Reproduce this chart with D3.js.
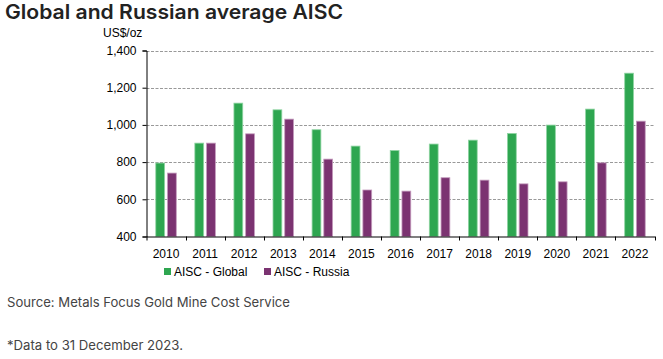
<!DOCTYPE html>
<html><head><meta charset="utf-8">
<script src="https://cdn.jsdelivr.net/npm/d3@7"></script>
<style>body{margin:0;background:#fff;} svg{display:block;}</style>
</head><body>
<script>
const years = ["2010","2011","2012","2013","2014","2015","2016","2017","2018","2019","2020","2021","2022"];
const aiscGlobal = [795, 902, 1117, 1081, 974, 886, 862, 897, 918, 954, 999, 1085, 1278];
const aiscRussia = [741, 902, 952, 1031, 816, 650, 644, 716, 703, 683, 694, 796, 1020];
const seriesNames = ["AISC - Global", "AISC - Russia"];
const yTicks = [400, 600, 800, 1000, 1200, 1400];

(function(){
const W = 663, H = 359;
const colors = ["#2EA650", "#7B3371"];
const svg = d3.select("body").append("svg").attr("width", W).attr("height", H);

const pL = 146.5, pR = 654.5, pT = 50.5, pB = 236.5;
const x0 = d3.scaleBand().domain(years).range([pL, pR]).paddingInner(0.475).paddingOuter(0.2375);
const x1 = d3.scaleBand().domain([0,1]).range([0, x0.bandwidth()]).paddingInner(0.25);
const y = d3.scaleLinear().domain([400, 1400]).range([pB, pT]);

// gridlines
svg.append("g").selectAll("line").data(yTicks.slice(1)).join("line")
  .attr("x1", pL).attr("x2", pR)
  .attr("y1", d => Math.round(y(d)) + 0.5).attr("y2", d => Math.round(y(d)) + 0.5)
  .attr("stroke", "#999").attr("stroke-dasharray", "3,1.5");

// bars
const data = years.map((yr, i) => ({yr, vals: [aiscGlobal[i], aiscRussia[i]]}));
const g = svg.append("g").selectAll("g").data(data).join("g")
  .attr("transform", d => `translate(${x0(d.yr)},0)`);
g.selectAll("rect").data(d => d.vals.map((v, k) => ({v, k}))).join("rect")
  .attr("x", d => x1(d.k)).attr("width", x1.bandwidth())
  .attr("y", d => y(d.v)).attr("height", d => y(400) - y(d.v))
  .attr("fill", d => colors[d.k])
  .attr("stroke", d => d.k === 0 ? "#8fd4a2" : "#c49bbd").attr("stroke-width", 0.8);

// y axis
const yAxis = d3.axisLeft(y).tickValues(yTicks).tickSize(4).tickFormat(d3.format(","));
const ya = svg.append("g").attr("transform", `translate(${pL},0)`).call(yAxis);
ya.select(".domain").attr("stroke", "#000");
ya.selectAll("text").attr("font-family", "Liberation Sans, Arial, sans-serif").attr("font-size", 12).attr("fill", "#000").attr("x", -10);

// x axis
const xa = svg.append("g").attr("transform", `translate(0,${pB})`)
  .call(d3.axisBottom(x0).tickSize(0).tickSizeOuter(0));
xa.select(".domain").attr("stroke", "#000");
xa.selectAll("text").attr("font-family", "Liberation Sans, Arial, sans-serif").attr("font-size", 12).attr("fill", "#000").attr("dy", "1.55em");
// category boundary ticks
svg.append("g").selectAll("line").data(d3.range(years.length + 1)).join("line")
  .attr("x1", i => Math.round(pL + i * (pR - pL) / years.length) + (i===0?0:0.5))
  .attr("x2", i => Math.round(pL + i * (pR - pL) / years.length) + (i===0?0:0.5))
  .attr("y1", pB).attr("y2", pB + 4).attr("stroke", "#000");

// y unit label
svg.append("text").attr("x", 103).attr("y", 37).text("US$/oz")
  .attr("font-family", "Liberation Sans, Arial, sans-serif").attr("font-size", 12).attr("fill", "#000");

// title
svg.append("text").attr("x", 5).attr("y", 19).text("Global and Russian average AISC")
  .attr("font-family", "Inter, 'Noto Sans', sans-serif").attr("font-weight", 600).attr("font-size", 20)
  .attr("fill", "#222").attr("textLength", 338).attr("lengthAdjust", "spacingAndGlyphs");

// legend
const legX = [164, 264];
const lg = svg.append("g").selectAll("g").data(seriesNames).join("g")
  .attr("transform", (d, i) => `translate(${legX[i]},0)`);
lg.append("rect").attr("x", 0).attr("y", 268).attr("width", 7).attr("height", 7).attr("fill", (d, i) => colors[i]);
lg.append("text").attr("x", 10).attr("y", 276).text(d => d)
  .attr("font-family", "Liberation Sans, Arial, sans-serif").attr("font-size", 12).attr("fill", "#000");

// notes
svg.append("text").attr("x", 7).attr("y", 307).text("Source: Metals Focus Gold Mine Cost Service")
  .attr("font-family", "Inter, 'Noto Sans', sans-serif").attr("font-size", 13).attr("fill", "#444")
  .attr("textLength", 283).attr("lengthAdjust", "spacingAndGlyphs");
svg.append("text").attr("x", 7).attr("y", 350).text("*Data to 31 December 2023.")
  .attr("font-family", "Inter, 'Noto Sans', sans-serif").attr("font-size", 13).attr("fill", "#444")
  .attr("textLength", 176).attr("lengthAdjust", "spacingAndGlyphs");
})();
</script>
</body></html>
